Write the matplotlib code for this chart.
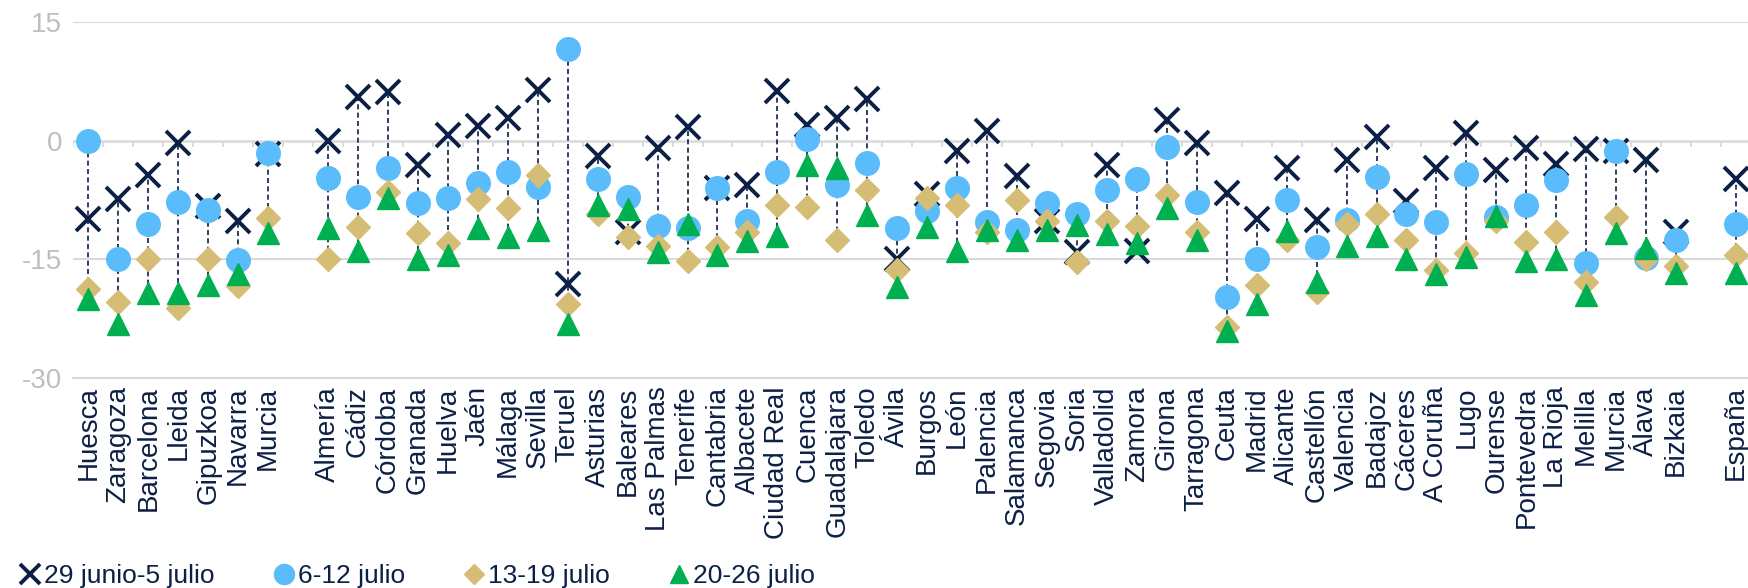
import matplotlib.pyplot as plt
import numpy as np

plt.rcParams['font.family'] = ['Liberation Sans', 'DejaVu Sans']
plt.rcParams['axes.unicode_minus'] = False

provincias = ["Huesca", "Zaragoza", "Barcelona", "Lleida", "Gipuzkoa", "Navarra", "Murcia",
              "Almería", "Cádiz", "Córdoba", "Granada", "Huelva", "Jaén", "Málaga", "Sevilla",
              "Teruel", "Asturias", "Baleares", "Las Palmas", "Tenerife", "Cantabria", "Albacete",
              "Ciudad Real", "Cuenca", "Guadalajara", "Toledo", "Ávila", "Burgos", "León",
              "Palencia", "Salamanca", "Segovia", "Soria", "Valladolid", "Zamora", "Girona",
              "Tarragona", "Ceuta", "Madrid", "Alicante", "Castellón", "Valencia", "Badajoz",
              "Cáceres", "A Coruña", "Lugo", "Ourense", "Pontevedra", "La Rioja", "Melilla",
              "Murcia", "Álava", "Bizkaia", "España"]
# slot index on the axis (gaps after Murcia and before España)
posiciones = list(range(0, 7)) + list(range(8, 54)) + [55]

semana1 = [-9.9, -7.4, -4.4, -0.3, -8.3, -10.2, -1.7,
           0.0, 5.5, 6.1, -3.1, 0.7, 1.8, 2.8, 6.4,
           -18.1, -2.0, -11.5, -0.9, 1.7, -6.0, -5.6,
           6.3, 2.0, 2.8, 5.2, -15.0, -6.7, -1.3,
           1.2, -4.5, -10.1, -14.1, -3.1, -13.9, 2.6,
           -0.3, -6.6, -9.9, -3.5, -10.0, -2.5, 0.4,
           -7.6, -3.5, 1.0, -3.7, -0.9, -3.0, -1.1,
           -1.3, -2.5, -11.6, -4.9]
semana2 = [-0.1, -15.0, -10.6, -7.8, -8.8, -15.1, -1.6,
           -4.7, -7.1, -3.5, -7.9, -7.2, -5.4, -4.0, -5.9,
           11.5, -4.8, -7.1, -10.8, -11.1, -6.0, -10.1,
           -4.0, 0.2, -5.6, -2.9, -11.1, -8.9, -6.0,
           -10.3, -11.3, -7.9, -9.3, -6.3, -4.9, -0.8,
           -7.7, -19.7, -15.0, -7.5, -13.4, -10.0, -4.6,
           -9.3, -10.3, -4.2, -9.6, -8.1, -5.0, -15.5,
           -1.3, -14.8, -12.6, -10.5]
semana3 = [-18.7, -20.4, -15.0, -21.2, -15.0, -18.4, -9.8,
           -15.0, -10.9, -6.5, -11.7, -13.0, -7.4, -8.5, -4.4,
           -20.6, -9.3, -12.2, -13.3, -15.2, -13.5, -11.6,
           -8.2, -8.4, -12.5, -6.2, -16.4, -7.2, -8.2,
           -11.6, -7.5, -10.1, -15.4, -10.2, -10.8, -6.9,
           -11.6, -23.6, -18.2, -12.6, -19.1, -10.6, -9.3,
           -12.5, -16.3, -14.2, -10.2, -12.8, -11.6, -17.9,
           -9.7, -15.0, -15.9, -14.5]
semana4 = [-20.0, -23.2, -19.2, -19.2, -18.2, -16.8, -11.7,
           -11.0, -14.0, -7.2, -15.0, -14.4, -11.0, -12.2, -11.3,
           -23.2, -8.2, -8.6, -14.1, -10.6, -14.5, -12.7,
           -12.0, -3.1, -3.5, -9.4, -18.5, -10.9, -14.0,
           -11.3, -12.6, -11.3, -10.7, -11.8, -13.0, -8.5,
           -12.6, -24.1, -20.7, -11.4, -17.9, -13.3, -12.0,
           -14.9, -16.8, -14.7, -9.5, -15.2, -14.9, -19.5,
           -11.7, -13.6, -16.7, -16.7]
etiquetas = ["29 junio-5 julio", "6-12 julio", "13-19 julio", "20-26 julio"]

navy = "#0c1f45"
grid = "#d9d9d9"

fig = plt.figure(figsize=(17.48, 5.88), dpi=100)
ax = fig.add_axes([0.042, 0.357, 0.958, 0.606])

x = np.array(posiciones)
datos = np.array([semana1, semana2, semana3, semana4])

# high-low dashed lines
ax.vlines(x, datos.min(axis=0), datos.max(axis=0), colors=navy, linestyles=(0, (3, 2)),
          linewidth=1.2, zorder=2)

ax.plot(x, semana1, 'x', color=navy, markersize=17, markeredgewidth=2.8, label=etiquetas[0], zorder=3, clip_on=False)
ax.plot(x, semana2, 'o', color="#5bbcfc", markersize=17, label=etiquetas[1], zorder=4, clip_on=False)
ax.plot(x, semana3, 'D', color="#d6bd76", markersize=12, label=etiquetas[2], zorder=5, clip_on=False)
ax.plot(x, semana4, '^', color="#00b050", markersize=16, label=etiquetas[3], zorder=6, clip_on=False)

# gridlines and zero axis with small category ticks
for y in (15, -15):
    ax.axhline(y, color=grid, linewidth=1.5, zorder=0)
ax.axhline(0, color=grid, linewidth=1.8, zorder=1)
limites = np.arange(-0.5, 56, 1.0)
ax.vlines(limites, -0.8, 0, colors=grid, linewidth=1.3, zorder=1)

ax.set_xlim(-0.5, 55.4)
ax.set_ylim(-30, 15)
ax.set_yticks([15, 0, -15, -30])
ax.set_xticks(x)
ax.set_xticklabels(provincias, rotation=90, fontsize=20, color=navy)
ax.tick_params(axis='x', length=0, pad=6)
ax.tick_params(axis='y', length=0, labelsize=20, labelcolor="#bfbfbf", pad=8)
for s in ("top", "right", "left"):
    ax.spines[s].set_visible(False)
ax.spines["bottom"].set_color(grid)
ax.spines["bottom"].set_linewidth(1.5)

fig.legend(loc="lower left", bbox_to_anchor=(-0.004, -0.04), ncol=4, frameon=False,
           fontsize=19, handletextpad=0.05, columnspacing=2.1, handlelength=1.0, labelcolor=navy,
           markerscale=0.85)

fig.savefig("out.png", dpi=100)
